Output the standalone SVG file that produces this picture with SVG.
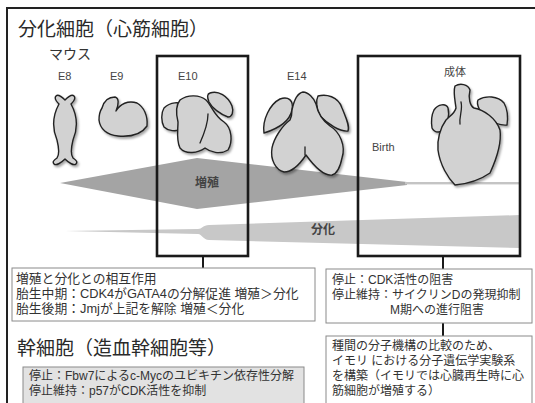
<svg xmlns="http://www.w3.org/2000/svg" width="535" height="403" viewBox="0 0 535 403">
  <defs>
    <filter id="shadow" x="-20%" y="-20%" width="150%" height="150%">
      <feDropShadow dx="1.5" dy="2" stdDeviation="1.2" flood-color="#000" flood-opacity="0.35"/>
    </filter>
  </defs>
  <style>
    .jp { font-family: "Liberation Sans", "Noto Sans CJK JP", sans-serif; }
    .lat { font-family: "Liberation Sans", "Noto Sans CJK JP", sans-serif; }
    .title { font-size: 19px; fill: #2a2a2a; }
    .stage { font-size: 11px; fill: #444; }
    .note { font-size: 12px; fill: #333; }
    .note-lg { font-size: 12.8px; fill: #333; }
    .band-label { font-size: 12px; font-weight: bold; fill: #444; }
    .heart { fill: #d2d2d2; stroke: #222; stroke-width: 1.4; stroke-linejoin: round; }
    .heart-line { fill: none; stroke: #222; stroke-width: 1.3; stroke-linecap: round; }
    .frame { fill: none; stroke: #1a1a1a; stroke-width: 2.6; }
    .txtbox { fill: #fff; stroke: #8a8a8a; stroke-width: 1; }
    .txtbox-gray { fill: #e2e2e2; stroke: #8a8a8a; stroke-width: 1; }
    .link { stroke: #1a1a1a; stroke-width: 2; fill: none; }
  </style>

  <rect width="535" height="403" fill="#fff"/>

  <!-- outer panel edge -->
  <path d="M7,403 V8 H535" fill="none" stroke="#222" stroke-width="2"/>

  <!-- headings -->
  <text class="jp title" x="18" y="36">分化細胞（心筋細胞）</text>
  <text class="jp" x="49" y="59" font-size="14" fill="#333">マウス</text>
  <text class="jp title" x="17" y="355">幹細胞（造血幹細胞等）</text>

  <!-- proliferation / differentiation bands -->
  <g id="bands">
    <polygon points="60,183 197,158 407,182 407,185 197,209" fill="#a4a4a4"/>
    <rect x="405" y="182" width="115" height="2.4" fill="#c4c4c4"/>
    <path d="M65,231 L198,229 C202,229 203,225 209,225 L520,215 L520,248 L209,240 C203,240 202,234 198,234 Z" fill="#c8c8c8"/>
    <text class="jp band-label" x="207" y="187" text-anchor="middle">増殖</text>
    <text class="jp band-label" x="323" y="234" text-anchor="middle">分化</text>
  </g>

  <!-- stage labels -->
  <text class="lat stage" x="58" y="80">E8</text>
  <text class="lat stage" x="110" y="80">E9</text>
  <text class="lat stage" x="178" y="80">E10</text>
  <text class="lat stage" x="287" y="80">E14</text>
  <text class="jp stage" x="455" y="76" text-anchor="middle">成体</text>
  <text class="lat stage" x="372" y="151">Birth</text>

  <!-- hearts -->
  <g id="heart-e8" filter="url(#shadow)">
    <path class="heart" d="M59,104 C56,101 54,98 56,96 C58,94 62,97 65,100 C68,97 72,94 74,96 C76,98 74,101 71,104 C77,115 78,128 73,140 C71,148 70,154 73,158 C76,160 78,162 76,164 C74,166 69,163 65,159 C61,163 56,166 54,164 C52,162 54,160 57,158 C60,154 59,148 57,140 C52,128 53,115 59,104 Z"/>
  </g>
  <g id="heart-e9" filter="url(#shadow)">
    <path class="heart" d="M102,108 C104,101 109,97 115,97 C119,98 119,104 116,111 C120,104 128,100 137,103 C144,107 148,116 147,126 C141,135 130,137 118,136 C107,135 100,129 99,120 C99,114 100,111 102,108 Z"/>
  </g>
  <g id="heart-e10" filter="url(#shadow)">
    <path class="heart" d="M164,108 C170,102 180,101 185,106 C188,114 186,124 182,129 C176,132 168,131 164,127 C161,121 161,113 164,108 Z"/>
    <path class="heart" d="M180,100 C188,94 200,95 206,100 C212,106 214,116 224,122 C232,128 233,142 228,150 C220,155 210,152 205,148 C198,153 186,155 180,148 C176,140 178,130 178,122 C176,114 176,105 180,100 Z"/>
    <path class="heart" d="M210,93 C218,90 228,96 232,106 C234,112 232,117 228,117 C220,114 212,108 209,102 C207,97 207,94 210,93 Z"/>
    <path class="heart-line" d="M208,114 C208,124 204,134 200,143"/>
  </g>
  <g id="heart-e14" filter="url(#shadow)">
    <path class="heart" d="M264,133 C262,120 270,104 280,99 C288,96 294,100 292,110 C290,120 280,128 264,133 Z"/>
    <path class="heart" d="M318,96 C326,94 338,96 342,108 C346,118 350,126 348,131 C340,132 328,124 320,116 C316,108 316,100 318,96 Z"/>
    <path class="heart" d="M292,110 C294,100 298,93 303,92 C308,92 314,98 316,104 C318,114 322,120 330,126 C340,132 346,146 342,158 C340,168 336,174 332,175 C324,176 314,166 306,155 C300,164 292,172 284,172 C276,170 270,160 272,148 C274,138 282,126 290,120 C292,116 292,113 292,110 Z"/>
    <path class="heart-line" d="M305,147 L305,155"/>
  </g>
  <g id="heart-adult" filter="url(#shadow)">
    <path class="heart" d="M434,110 C438,104 446,103 448,108 C450,116 447,126 443,131 C438,133 434,132 432,128 C431,121 432,114 434,110 Z"/>
    <path class="heart" d="M478,100 C486,95 498,96 504,103 C508,110 508,118 507,125 C500,126 492,122 485,118 C480,112 476,104 478,100 Z"/>
    <path class="heart" d="M455,86 C460,83 468,84 470,90 C468,98 470,106 474,108 C484,110 496,118 500,130 C502,145 496,160 490,173 C480,180 466,184 455,185 C448,178 440,165 438,150 C437,140 440,128 446,120 C450,116 455,113 456,108 C455,100 453,92 455,86 Z"/>
    <path class="heart-line" d="M461,102 C463,110 459,116 460,124"/>
  </g>

  <!-- highlight frames -->
  <g id="frame-e10"><rect class="frame" x="157" y="56" width="91" height="200"/></g>
  <g id="frame-adult"><rect class="frame" x="358" y="56" width="162" height="200"/></g>

  <!-- connectors -->
  <g id="connectors">
    <line class="link" x1="203" y1="256" x2="203" y2="268"/>
    <line class="link" x1="443" y1="256" x2="443" y2="269"/>
    <line class="link" x1="443" y1="323" x2="443" y2="336"/>
  </g>

  <!-- text boxes -->
  <g id="box-interaction">
    <rect class="txtbox" x="12" y="268" width="303" height="53"/>
    <text class="jp note-lg" x="16" y="283">増殖と分化との相互作用</text>
    <text class="jp note-lg" x="16" y="298">胎生中期：CDK4がGATA4の分解促進 増殖＞分化</text>
    <text class="jp note-lg" x="16" y="313">胎生後期：Jmjが上記を解除 増殖＜分化</text>
  </g>
  <g id="box-arrest">
    <rect class="txtbox" x="326" y="269" width="206" height="54"/>
    <text class="jp note" x="332" y="284">停止：CDK活性の阻害</text>
    <text class="jp note" x="332" y="299">停止維持：サイクリンDの発現抑制</text>
    <text class="jp note" x="390" y="314">M期への進行阻害</text>
  </g>
  <g id="box-newt">
    <rect class="txtbox" x="326" y="336" width="206" height="70"/>
    <text class="jp note" x="332" y="350">種間の分子機構の比較のため、</text>
    <text class="jp note" x="332" y="365">イモリ における分子遺伝学実験系</text>
    <text class="jp note" x="332" y="380">を構築（イモリでは心臓再生時に心</text>
    <text class="jp note" x="332" y="395">筋細胞が増殖する）</text>
  </g>
  <g id="box-stem">
    <rect class="txtbox-gray" x="23" y="367" width="281" height="40"/>
    <text class="jp note" x="29" y="380">停止：Fbw7によるc-Mycのユビキチン依存性分解</text>
    <text class="jp note" x="29" y="395">停止維持：p57がCDK活性を抑制</text>
  </g>
</svg>
